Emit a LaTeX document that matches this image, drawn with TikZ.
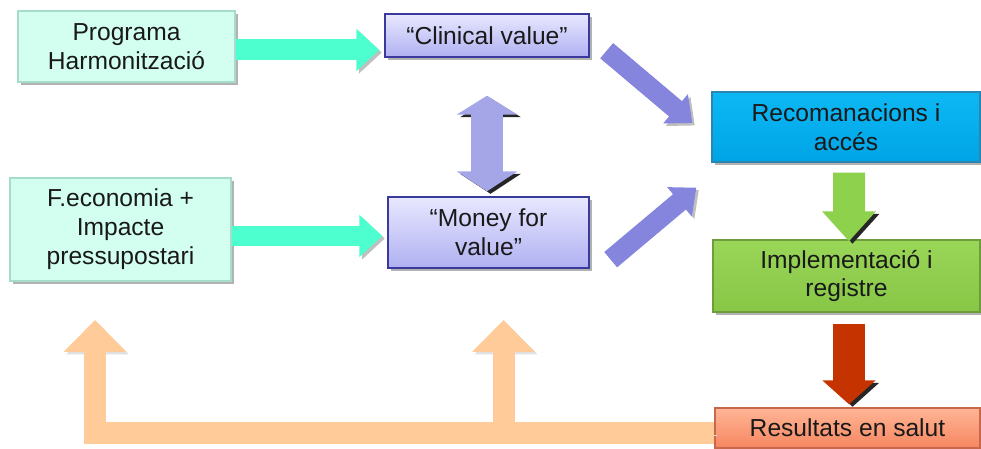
\documentclass[tikz,border=0pt]{standalone}
\usepackage{fontspec}
\setmainfont{Liberation Sans}
\usetikzlibrary{arrows.meta,calc,shadows}

\definecolor{mintfill}{HTML}{D2FFF0}
\definecolor{mintline}{HTML}{A6DCCB}
\definecolor{lavtop}{HTML}{E8E8FF}
\definecolor{lavbot}{HTML}{B0B0F2}
\definecolor{lavline}{HTML}{3A3A9C}
\definecolor{rectop}{HTML}{0CB8F4}
\definecolor{recbot}{HTML}{00A4E6}
\definecolor{recline}{HTML}{2A86B0}
\definecolor{impltop}{HTML}{9AD658}
\definecolor{implbot}{HTML}{88C646}
\definecolor{implline}{HTML}{6E9E3C}
\definecolor{restop}{HTML}{FFB596}
\definecolor{resbot}{HTML}{F68660}
\definecolor{resline}{HTML}{C8684A}
\definecolor{tealarr}{HTML}{4DFFCF}
\definecolor{purparr}{HTML}{8585DD}
\definecolor{lavarr}{HTML}{A4A6E8}
\definecolor{greenarr}{HTML}{8DD14C}
\definecolor{redarr}{HTML}{C53300}
\definecolor{peacharr}{HTML}{FFCB99}

\tikzset{
  box/.style={line width=0.8pt, align=center, inner sep=2pt,
    font=\fontsize{14}{16.5}\selectfont, text=black!90,
    drop shadow={shadow xshift=0.06cm, shadow yshift=-0.06cm, opacity=0.3, fill=black}},
  mintbox/.style={draw=mintline, fill=mintfill},
  lavbox/.style={draw=lavline, top color=lavtop, bottom color=lavbot},
  recbox/.style={draw=recline, top color=rectop, bottom color=recbot},
  implbox/.style={draw=implline, top color=impltop, bottom color=implbot},
  resbox/.style={draw=resline, top color=restop, bottom color=resbot},
  softshadow/.style={preaction={draw=black!25, transform canvas={shift={(0.05cm,-0.05cm)}}}},
  hardshadow/.style={preaction={draw=black!85, transform canvas={shift={(0.07cm,-0.05cm)}}}},
  tealarrow/.style={softshadow, draw=tealarr, line width=0.42cm,
    -{Triangle[length=0.46cm,width=0.82cm]}},
  purparrow/.style={softshadow, draw=purparr, line width=0.4cm,
    -{Triangle[length=0.44cm,width=0.74cm]}},
  lavarrow/.style={hardshadow, draw=lavarr, line width=0.64cm,
    {Triangle[length=0.38cm,width=1.2cm]}-{Triangle[length=0.4cm,width=1.2cm]}},
  greenarrow/.style={hardshadow, draw=greenarr, line width=0.64cm,
    -{Triangle[length=0.6cm,width=1.04cm]}},
  redarrow/.style={hardshadow, draw=redarr, line width=0.64cm,
    -{Triangle[length=0.48cm,width=1.04cm]}},
  peacharrow/.style={preaction={draw=black!12, transform canvas={shift={(0.05cm,-0.05cm)}}},
    draw=peacharr, line width=0.44cm, -{Triangle[length=0.64cm,width=1.22cm]}}
}

\begin{document}
\begin{tikzpicture}[x=0.02cm, y=-0.02cm]
  \useasboundingbox (0,0) rectangle (981,449);
  % boxes
  \node[box, mintbox, minimum width=4.34cm, minimum height=1.42cm] (prog) at (126.5,46.5) {Programa\\Harmonització};
  \node[box, mintbox, minimum width=4.42cm, minimum height=2.06cm] (feco) at (120.5,229.5) {F.economia +\\Impacte\\pressupostari};
  \node[box, lavbox, minimum width=4.08cm, minimum height=0.86cm] (clin) at (487,35.5) {“Clinical value”};
  \node[box, lavbox, minimum width=4.02cm, minimum height=1.42cm] (money) at (488.5,232.5) {“Money for\\value”};
  \node[box, recbox, minimum width=5.36cm, minimum height=1.4cm] (rec) at (846,127) {Recomanacions i\\accés};
  \node[box, implbox, minimum width=5.34cm, minimum height=1.44cm] (impl) at (846.5,276) {Implementació i\\registre};
  \node[box, resbox, minimum width=5.3cm, minimum height=0.8cm] (res) at (847.5,428) {Resultats en salut};
  % arrows
  \draw[tealarrow] ($(prog.east)+(0,3.5)$) -- ($(prog.east -| clin.west)+(-5,3.5)$);
  \draw[tealarrow] ($(feco.east)+(0,6.5)$) -- ($(feco.east -| money.west)+(-5,6.5)$);
  \draw[lavarrow] ($(clin.south)+(0,38)$) -- ($(clin.south |- money.north)+(0,-5)$);
  \draw[purparrow] ($(clin.south east)+(17,-7)$) -- ($(rec.west)+(-19,-4)$);
  \draw[purparrow] ($(money.south east)+(21,-9)$) -- ($(rec.south west)+(-15,25)$);
  \draw[greenarrow] ($(rec.south)+(3,10)$) -- ($(impl.north)+(2.5,2)$);
  \draw[redarrow] ($(impl.south)+(2.5,11)$) -- ($(res.north)+(1.5,-3)$);
  % return loop
  \coordinate (loopcorner) at (95,433);
  \coordinate (loopleft) at (95,320);
  \coordinate (loopbranch) at (503.5,433);
  \coordinate (loopmid) at (503.5,320);
  \draw[peacharrow] (loopbranch) -- (loopmid);
  \draw[peacharrow] (res.west |- loopcorner) -- (loopcorner) -- (loopleft);
\end{tikzpicture}
\end{document}
